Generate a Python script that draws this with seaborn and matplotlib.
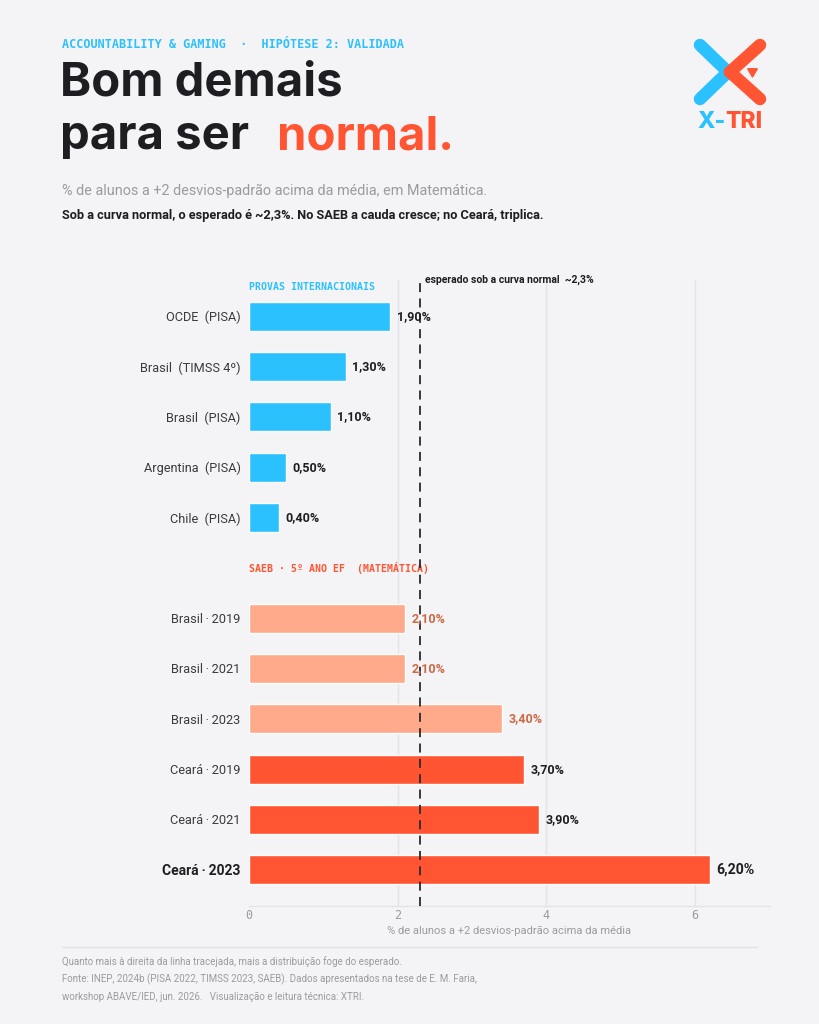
import matplotlib
matplotlib.use("Agg")
import matplotlib.pyplot as plt
from matplotlib.lines import Line2D
import seaborn as sns
import pandas as pd

# ---------------- data ----------------
categories = ["OCDE  (PISA)", "Brasil  (TIMSS 4º)", "Brasil  (PISA)", "Argentina  (PISA)", "Chile  (PISA)",
              "Brasil\u2009·\u20092019", "Brasil\u2009·\u20092021", "Brasil\u2009·\u20092023",
              "Ceará\u2009·\u20092019", "Ceará\u2009·\u20092021", "Ceará\u2009·\u20092023"]
values = [1.9, 1.3, 1.1, 0.5, 0.4, 2.1, 2.1, 3.4, 3.7, 3.9, 6.2]
groups = ["internacional"] * 5 + ["saeb_brasil"] * 3 + ["saeb_ceara"] * 3
expected = 2.3
x_ticks = [0, 2, 4, 6]

BG = "#F4F4F6"
BLUE = "#2BC1FF"
ORANGE = "#FF5533"
SALMON = "#FFAA8A"
DARK = "#1E1E22"
GRAY = "#9A9AA0"
palette = {"internacional": BLUE, "saeb_brasil": SALMON, "saeb_ceara": ORANGE}
label_colors = {"internacional": DARK, "saeb_brasil": "#CC6A45", "saeb_ceara": DARK}

sns.set_theme(style="white")
plt.rcParams["font.family"] = ["Roboto", "DejaVu Sans"]
MONO = ["DejaVu Sans Mono"]
TITLE = ["Inter", "DejaVu Sans"]

df = pd.DataFrame({"cat": categories, "val": values, "grp": groups})
SPACER = " "
order = categories[:5] + [SPACER] + categories[5:]

fig = plt.figure(figsize=(8.19, 10.24), dpi=100, facecolor=BG)
W, H = 819, 1024
ax = fig.add_axes([249 / W, 1 - 906 / H, (770 - 249) / W, (906 - 280) / H])
ax.set_facecolor(BG)

sns.barplot(data=df, x="val", y="cat", hue="grp", order=order, palette=palette,
            dodge=False, width=0.58, legend=False, ax=ax, saturation=1, zorder=3)

ax.set_xlim(0, 7.01)
ax.set_ylim(11.72, -0.72)
ax.set_xticks(x_ticks)
ax.set_xticklabels([str(t) for t in x_ticks], family=MONO, fontsize=8.5, color="#9A9AA0")
for t in x_ticks[1:]:
    ax.axvline(t, color="#E4E4E8", lw=1, zorder=1)
ax.tick_params(axis="x", length=0, pad=2)
ax.tick_params(axis="y", length=0, pad=6)
for s in ["left", "top", "right"]:
    ax.spines[s].set_visible(False)
ax.spines["bottom"].set_color("#E4E4E8")
ax.spines["bottom"].set_linewidth(1)

pos = [order.index(c) for c in categories]
ax.set_yticks(pos)
ax.set_yticklabels(categories, fontsize=9.2, color="#3A3A40")
lbls = ax.get_yticklabels()
lbls[-1].set_fontweight("bold")
lbls[-1].set_fontsize(10)
lbls[-1].set_color(DARK)
ax.set_ylabel("")
ax.set_xlabel("% de alunos a +2 desvios-padrão acima da média", fontsize=8, color=GRAY, labelpad=3)

# value labels
for c, v, g, p in zip(categories, values, groups, pos):
    big = (p == pos[-1])
    ax.text(v + 0.09, p, f"{v:.2f}%".replace(".", ","), va="center", ha="left",
            fontsize=10.2 if big else 9, fontweight="bold", color=label_colors[g], zorder=5)

# expected line
ax.axvline(expected, color="#2A2A2E", lw=1.3, ls=(0, (5, 3.5)), zorder=4)
ax.text(expected + 0.07, -0.72, "esperado sob a curva normal  ~2,3%", fontsize=7.5,
        fontweight="bold", color=DARK, va="center", ha="left")

# section headers
ax.text(0, -0.58, "PROVAS INTERNACIONAIS", family=MONO, fontweight="bold", fontsize=7.1,
        color=BLUE, va="center", ha="left")
ax.text(0, 5.0, "SAEB · 5º ANO EF  (MATEMÁTICA)", family=MONO, fontweight="bold", fontsize=7.1,
        color=ORANGE, va="center", ha="left")

# ---------------- header texts ----------------
def fx(px):
    return px / W

def fy(py):
    return 1 - py / H

fig.text(fx(62), fy(45), "ACCOUNTABILITY & GAMING  ·  HIPÓTESE 2: VALIDADA", family=MONO,
         fontweight="bold", fontsize=8.5, color=BLUE, va="center", ha="left")
fig.text(fx(60), fy(96), "Bom demais", family=TITLE, fontsize=34, fontweight="bold", color=DARK,
         va="baseline", ha="left")
fig.text(fx(60), fy(149), "para ser", family=TITLE, fontsize=34, fontweight="bold", color=DARK,
         va="baseline", ha="left")
fig.text(fx(277), fy(149), "normal.", family=TITLE, fontsize=34, fontweight="bold", color=ORANGE,
         va="baseline", ha="left")
fig.text(fx(62), fy(191), "% de alunos a +2 desvios-padrão acima da média, em Matemática.",
         fontsize=10.4, color=GRAY, va="center", ha="left")
fig.text(fx(62), fy(216), "Sob a curva normal, o esperado é ~2,3%. No SAEB a cauda cresce; no Ceará, triplica.",
         fontsize=9.2, fontweight="bold", color=DARK, va="center", ha="left")

# ---------------- logo ----------------
lax = fig.add_axes([fx(690), fy(108), fx(80), 80 / H])
lax.set_xlim(690, 770)
lax.set_ylim(108, 28)
lax.axis("off")
lw = 9
lax.add_line(Line2D([700, 728], [45, 72], color=BLUE, lw=lw, solid_capstyle="round"))
lax.add_line(Line2D([700, 728], [99, 72], color=BLUE, lw=lw, solid_capstyle="round"))
lax.add_line(Line2D([760, 730], [45, 72], color=ORANGE, lw=lw, solid_capstyle="round"))
lax.add_line(Line2D([760, 730], [99, 72], color=ORANGE, lw=lw, solid_capstyle="round"))
lax.plot([752], [71], marker=(3, 0, 180), markersize=8, color=ORANGE)
fig.text(fx(697), fy(122), "X-", family=TITLE, fontsize=16.5, fontweight="heavy", color=BLUE,
         va="center", ha="left")
fig.text(fx(762), fy(122), "TRI", family=TITLE, fontsize=16.5, fontweight="heavy", color=ORANGE,
         va="center", ha="right")

# ---------------- footer ----------------
fig.add_artist(Line2D([fx(62), fx(757)], [fy(947), fy(947)], color="#E2E2E6", lw=1))
foot = ["Quanto mais à direita da linha tracejada, mais a distribuição foge do esperado.",
        "Fonte: INEP, 2024b (PISA 2022, TIMSS 2023, SAEB). Dados apresentados na tese de E. M. Faria,",
        "workshop ABAVE/IED, jun. 2026.   Visualização e leitura técnica: XTRI."]
for i, line in enumerate(foot):
    fig.text(fx(62), fy(962 + 17.5 * i), line, fontsize=7.0, color=GRAY, va="center", ha="left")

fig.savefig("out.png", dpi=100, facecolor=BG)
